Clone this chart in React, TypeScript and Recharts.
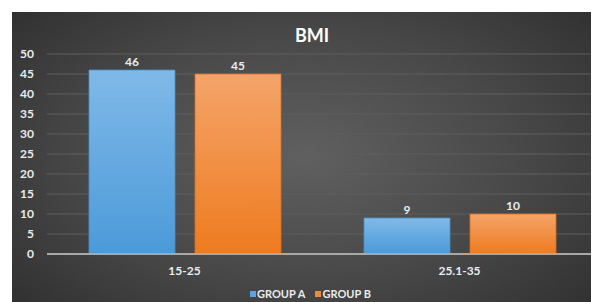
import React from "react";
import { BarChart, Bar, XAxis, YAxis, CartesianGrid, LabelList } from "recharts";

const categories = ["15-25", "25.1-35"];
const groupA = [46, 9];
const groupB = [45, 10];
const yTicks = [0, 5, 10, 15, 20, 25, 30, 35, 40, 45, 50];
const title = "BMI";
const seriesNames = ["GROUP A", "GROUP B"];

const data = categories.map((c, i) => ({ name: c, a: groupA[i], b: groupB[i] }));

const FONT = "Lato, 'Open Sans', sans-serif";
const TEXT = "#e8ecf0";

export default function App() {
  return (
    <div style={{ paddingLeft: 4, paddingTop: 4 }}>
      <div
        style={{
          position: "relative",
          width: 586,
          height: 290,
          background: "radial-gradient(ellipse 70% 80% at 50% 50%, #606060 0%, #474747 55%, #2e2e2e 100%)",
          fontFamily: FONT,
          overflow: "hidden",
        }}
      >
        <div
          style={{
            position: "absolute",
            left: 0,
            width: 600,
            top: 12,
            textAlign: "center",
            color: "#ffffff",
            fontWeight: 700,
            fontSize: 18,
            lineHeight: "22px",
          }}
        >
          {title}
        </div>
        <BarChart
          width={586}
          height={290}
          data={data}
          margin={{ top: 42, right: 1, left: 0, bottom: 18 }}
          barCategoryGap={42}
          barGap={20}
        >
          <defs>
            <linearGradient id="gA" x1="0" y1="0" x2="0" y2="1">
              <stop offset="0%" stopColor="#80b9e8" />
              <stop offset="100%" stopColor="#4b9ad9" />
            </linearGradient>
            <linearGradient id="gB" x1="0" y1="0" x2="0" y2="1">
              <stop offset="0%" stopColor="#f4a469" />
              <stop offset="100%" stopColor="#ee7b1f" />
            </linearGradient>
          </defs>
          <CartesianGrid vertical={false} stroke="#5f5f5f" strokeWidth={1} />
          <XAxis
            dataKey="name"
            axisLine={{ stroke: "#a8a8a8", strokeWidth: 2 }}
            tickLine={false}
            tickSize={0}
            tickMargin={12}
            height={30}
            tick={{ fill: TEXT, fontSize: 12, fontWeight: 700, fontFamily: FONT }}
          />
          <YAxis
            domain={[0, 50]}
            ticks={yTicks}
            interval={0}
            width={35}
            axisLine={false}
            tickLine={false}
            tickSize={0}
            tickMargin={13}
            tick={{ fill: TEXT, fontSize: 12, fontWeight: 700, fontFamily: FONT }}
          />
          <Bar dataKey="a" name={seriesNames[0]} fill="url(#gA)" stroke="#4a8fc8" strokeWidth={0.8} isAnimationActive={false}>
            <LabelList dataKey="a" position="top" offset={4} fill={TEXT} fontSize={12} fontWeight={700} fontFamily={FONT} />
          </Bar>
          <Bar dataKey="b" name={seriesNames[1]} fill="url(#gB)" stroke="#d87020" strokeWidth={0.8} isAnimationActive={false}>
            <LabelList dataKey="b" position="top" offset={4} fill={TEXT} fontSize={12} fontWeight={700} fontFamily={FONT} />
          </Bar>
        </BarChart>
        <div
          style={{
            position: "absolute",
            top: 276,
            left: 238,
            display: "flex",
            alignItems: "center",
            color: TEXT,
            fontWeight: 700,
            fontSize: 11,
            lineHeight: "12px",
          }}
        >
          <span style={{ display: "inline-block", width: 6, height: 6, background: "#5ba3e0", marginRight: 1 }} />
          <span style={{ marginRight: 10 }}>{seriesNames[0]}</span>
          <span style={{ display: "inline-block", width: 6, height: 6, background: "#f08a35", marginRight: 1 }} />
          <span>{seriesNames[1]}</span>
        </div>
      </div>
    </div>
  );
}
